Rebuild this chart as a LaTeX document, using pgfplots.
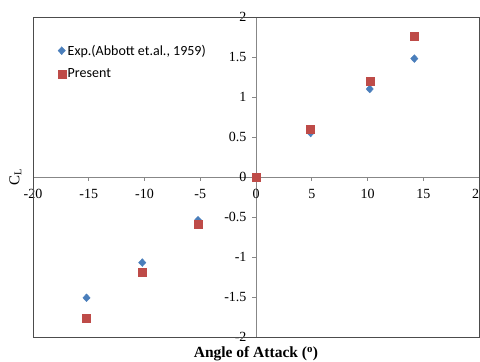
\documentclass[border=0pt]{standalone}
\usepackage{pgfplots}
\pgfplotsset{compat=1.18}
\usepackage{fontspec}
\setmainfont{Liberation Serif}
\newfontfamily\legfont{Carlito}
\definecolor{expblue}{RGB}{74,126,187}
\definecolor{presred}{RGB}{190,75,72}
\definecolor{axgray}{RGB}{135,135,135}
\begin{document}
\begin{tikzpicture}
\begin{axis}[
  scale only axis,
  width=446pt, height=320pt,
  xmin=-20, xmax=20, ymin=-2, ymax=2,
  axis lines=middle,
  hide obscured x ticks=false,
  hide obscured y ticks=false,
  axis line style={draw=axgray, line width=0.8pt, -},
  xtick={-20,-15,...,20},
  ytick={-2,-1.5,...,2},
  tick align=outside,
  major tick length=4pt,
  tick style={draw=axgray, line width=0.6pt},
  /pgf/number format/assume math mode=true,
  ticklabel style={font=\fontsize{14}{16}\selectfont},
  xticklabel style={yshift=-5pt},
  yticklabel style={xshift=-2pt},
  yticklabel={\pgfmathprintnumber[fixed,precision=1]{\tick}},
  xlabel={\textbf{Angle of Attack (\textsuperscript{o})}},
  xlabel style={at={(rel axis cs:0.5,0)}, anchor=north, yshift=-6pt, font=\fontsize{15.5}{17}\selectfont},
  ylabel={C$_{\mathrm{L}}$},
  ylabel style={at={(rel axis cs:0,0.5)}, anchor=south, rotate=90, yshift=8pt, font=\fontsize{15}{17}\selectfont},
  legend style={draw=none, fill=none, at={(rel axis cs:0.055,0.92)}, anchor=north west,
    font=\legfont\fontsize{14}{16}\selectfont, row sep=8pt, inner sep=0pt},
  legend cell align=left,
  clip=false,
]
\addplot[only marks, mark=diamond*, mark size=3.9pt, color=expblue, mark options={draw=expblue, fill=expblue, xscale=1.25}]
  coordinates {(-15.2,-1.51) (-10.2,-1.07) (-5.2,-0.54) (0,0) (4.9,0.55) (10.2,1.10) (14.2,1.48)};
\addlegendentry{Exp.(Abbott et.al., 1959)}
\addplot[only marks, mark=square*, mark size=4pt, color=presred, mark options={draw=presred, fill=presred}]
  coordinates {(-15.2,-1.76) (-10.2,-1.19) (-5.2,-0.59) (0,0) (4.9,0.60) (10.2,1.20) (14.2,1.76)};
\addlegendentry{Present}
\coordinate (sw) at (rel axis cs:0,0);
\coordinate (ne) at (rel axis cs:1,1);
\draw[black!70, line width=0.8pt] (rel axis cs:0,0) rectangle (rel axis cs:1,1);
\end{axis}
\pgfresetboundingbox
\path[use as bounding box] ([xshift=-33pt,yshift=-25pt]sw) rectangle ([xshift=1pt,yshift=17pt]ne);
\end{tikzpicture}
\end{document}
